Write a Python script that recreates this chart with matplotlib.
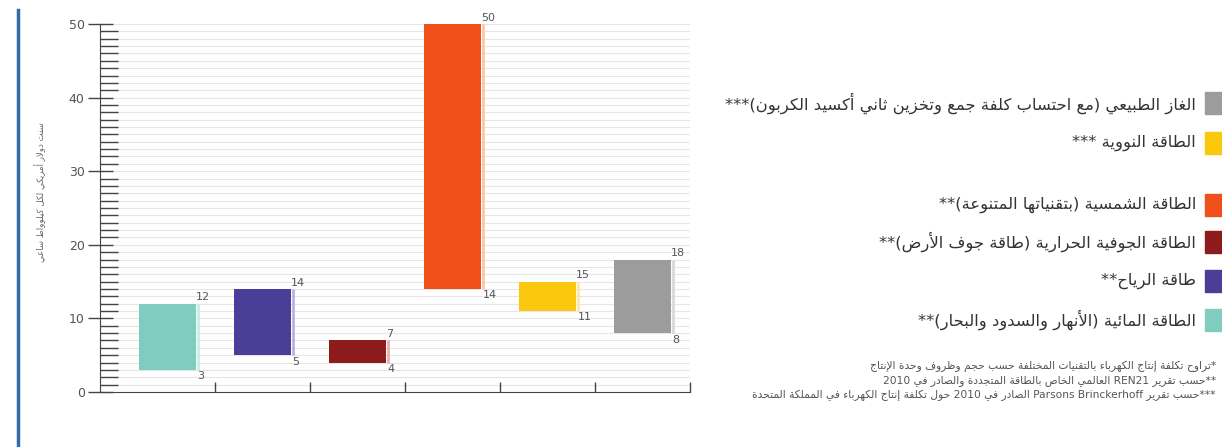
import matplotlib
matplotlib.use("Agg")
import matplotlib.pyplot as plt
from matplotlib.patches import Rectangle
from matplotlib.lines import Line2D

plt.rcParams['font.family'] = ['DejaVu Sans']

# cost ranges, US cents per kWh
sources = ["hydro", "wind", "geothermal", "solar", "nuclear", "gas_ccs"]
low = [3, 5, 4, 14, 11, 8]
high = [12, 14, 7, 50, 15, 18]
colors = ["#7fcdc0", "#4b3e98", "#8e1b1b", "#f0511b", "#fcc80d", "#9c9c9c"]
edge_colors = ["#c9ece6", "#b9b3dc", "#e8b0a8", "#fbc9a8", "#fde8a0", "#d8d8d8"]

legend_labels = [
    "الغاز الطبيعي (مع احتساب كلفة جمع وتخزين ثاني أكسيد الكربون)***",
    "الطاقة النووية ***",
    "الطاقة الشمسية (بتقنياتها المتنوعة)**",
    "الطاقة الجوفية الحرارية (طاقة جوف الأرض)**",
    "طاقة الرياح**",
    "الطاقة المائية (الأنهار والسدود والبحار)**",
]
legend_colors = ["#9c9c9c", "#fcc80d", "#f0511b", "#8e1b1b", "#4b3e98", "#7fcdc0"]
legend_y = [103, 143, 205, 242, 281, 320]

footnotes = [
    "*تراوح تكلفة إنتاج الكهرباء بالتقنيات المختلفة حسب حجم وظروف وحدة الإنتاج",
    "**حسب تقرير REN21 العالمي الخاص بالطاقة المتجددة والصادر في 2010",
    "***حسب تقرير Parsons Brinckerhoff الصادر في 2010 حول تكلفة إنتاج الكهرباء في المملكة المتحدة",
]
y_label = "سنت دولار أمريكي لكل كيلوواط ساعي"

# --- minimal Arabic shaping (presentation forms) + right-to-left ordering ---
_forms = {
    'ء': (0xFE80, 1), 'آ': (0xFE81, 2), 'أ': (0xFE83, 2), 'ؤ': (0xFE85, 2),
    'إ': (0xFE87, 2), 'ئ': (0xFE89, 4), 'ا': (0xFE8D, 2), 'ب': (0xFE8F, 4),
    'ة': (0xFE93, 2), 'ت': (0xFE95, 4), 'ث': (0xFE99, 4), 'ج': (0xFE9D, 4),
    'ح': (0xFEA1, 4), 'خ': (0xFEA5, 4), 'د': (0xFEA9, 2), 'ذ': (0xFEAB, 2),
    'ر': (0xFEAD, 2), 'ز': (0xFEAF, 2), 'س': (0xFEB1, 4), 'ش': (0xFEB5, 4),
    'ص': (0xFEB9, 4), 'ض': (0xFEBD, 4), 'ط': (0xFEC1, 4), 'ظ': (0xFEC5, 4),
    'ع': (0xFEC9, 4), 'غ': (0xFECD, 4), 'ف': (0xFED1, 4), 'ق': (0xFED5, 4),
    'ك': (0xFED9, 4), 'ل': (0xFEDD, 4), 'م': (0xFEE1, 4), 'ن': (0xFEE5, 4),
    'ه': (0xFEE9, 4), 'و': (0xFEED, 2), 'ى': (0xFEEF, 2), 'ي': (0xFEF1, 4),
}
_lam_alef = {'آ': 0xFEF5, 'أ': 0xFEF7, 'إ': 0xFEF9, 'ا': 0xFEFB}
_mirror = {'(': ')', ')': '('}


def _shape_word(word):
    out = []
    i = 0
    n = len(word)
    while i < n:
        ch = word[i]
        if ch not in _forms:
            out.append(_mirror.get(ch, ch))
            i += 1
            continue
        prev = word[i - 1] if i > 0 else ''
        joins_prev = prev in _forms and _forms[prev][1] == 4
        if ch == 'ل' and i + 1 < n and word[i + 1] in _lam_alef:
            out.append(chr(_lam_alef[word[i + 1]] + (1 if joins_prev else 0)))
            i += 2
            continue
        base, nf = _forms[ch]
        nxt = word[i + 1] if i + 1 < n else ''
        joins_next = nf == 4 and nxt in _forms
        if nf == 1:
            code = base
        elif joins_prev and joins_next:
            code = base + 3
        elif joins_next:
            code = base + 2
        elif joins_prev:
            code = base + 1
        else:
            code = base
        out.append(chr(code))
        i += 1
    return ''.join(out)


def ar(text):
    # Arabic words are shaped and reversed; runs of Latin words keep their order
    runs = []
    for w in text.split(' '):
        if any(c in _forms for c in w):
            runs.append(_shape_word(w)[::-1])
        elif runs and isinstance(runs[-1], list):
            runs[-1].append(w)
        else:
            runs.append([w])
    parts = [' '.join(r) if isinstance(r, list) else r for r in runs]
    return ' '.join(parts[::-1])


fig = plt.figure(figsize=(12.22, 4.47), dpi=100)
W, H = 1222, 447
ax = fig.add_axes([100 / W, 1 - 392 / H, 590 / W, 368 / H])

x = list(range(len(sources)))
bar_w = 0.6
heights = [h - l for l, h in zip(low, high)]
ax.bar(x, heights, bottom=low, width=bar_w, color=colors, zorder=3)
for xi, lo, hi, ec in zip(x, low, high, edge_colors):
    ax.vlines(xi + bar_w / 2 + 0.02, lo, hi, color=ec, lw=2, zorder=3)
    ax.annotate(str(hi), (xi + bar_w / 2, hi), xytext=(0, 1),
                textcoords='offset points', ha='left', va='bottom',
                fontsize=8, color='#555555')
    ax.annotate(str(lo), (xi + bar_w / 2, lo), xytext=(1, -1),
                textcoords='offset points', ha='left', va='top',
                fontsize=8, color='#555555')

ax.set_xlim(-0.71, 5.5)
ax.set_ylim(0, 50)

# light horizontal guides every unit
for v in range(1, 51):
    ax.axhline(v, color='#e6e6e6', lw=0.8, zorder=1)

ax.set_yticks(range(0, 51, 10))
ax.set_yticks(range(0, 51), minor=True)
ax.tick_params(axis='y', which='minor', direction='in', length=13, width=1.0,
               color='#444444')
ax.tick_params(axis='y', which='major', direction='inout', length=18, width=1.0,
               color='#444444', labelsize=9, labelcolor='#555555', pad=2)
ax.set_xticks([i + 0.5 for i in range(6)])
ax.set_xticklabels([])
ax.tick_params(axis='x', direction='in', length=7, width=1.0, color='#444444')

for side in ['top', 'right']:
    ax.spines[side].set_visible(False)
ax.spines['left'].set_color('#444444')
ax.spines['bottom'].set_color('#444444')

fig.text(40 / W, 1 - 192 / H, ar(y_label), rotation=90, ha='center', va='center',
         fontsize=6.2, color='#666666')

# legend built by hand on the right
for lab, col, yy in zip(legend_labels, legend_colors, legend_y):
    fig.patches.append(Rectangle((1205 / W, 1 - (yy + 11) / H), 18 / W, 22 / H,
                                 transform=fig.transFigure, color=col))
    fig.text(1196 / W, 1 - yy / H, ar(lab), ha='right', va='center',
             fontsize=11.8, color='#333333')

for k, note in enumerate(footnotes):
    fig.text(1216 / W, 1 - (366 + 14.5 * k) / H, ar(note), ha='right', va='center',
             fontsize=7.7, color='#555555')

# blue rule at the far left
fig.add_artist(Line2D([18 / W, 18 / W], [0, 1 - 10 / H], transform=fig.transFigure,
                      color='#2f6ea8', lw=2.5))

fig.savefig("out.png", dpi=100)
